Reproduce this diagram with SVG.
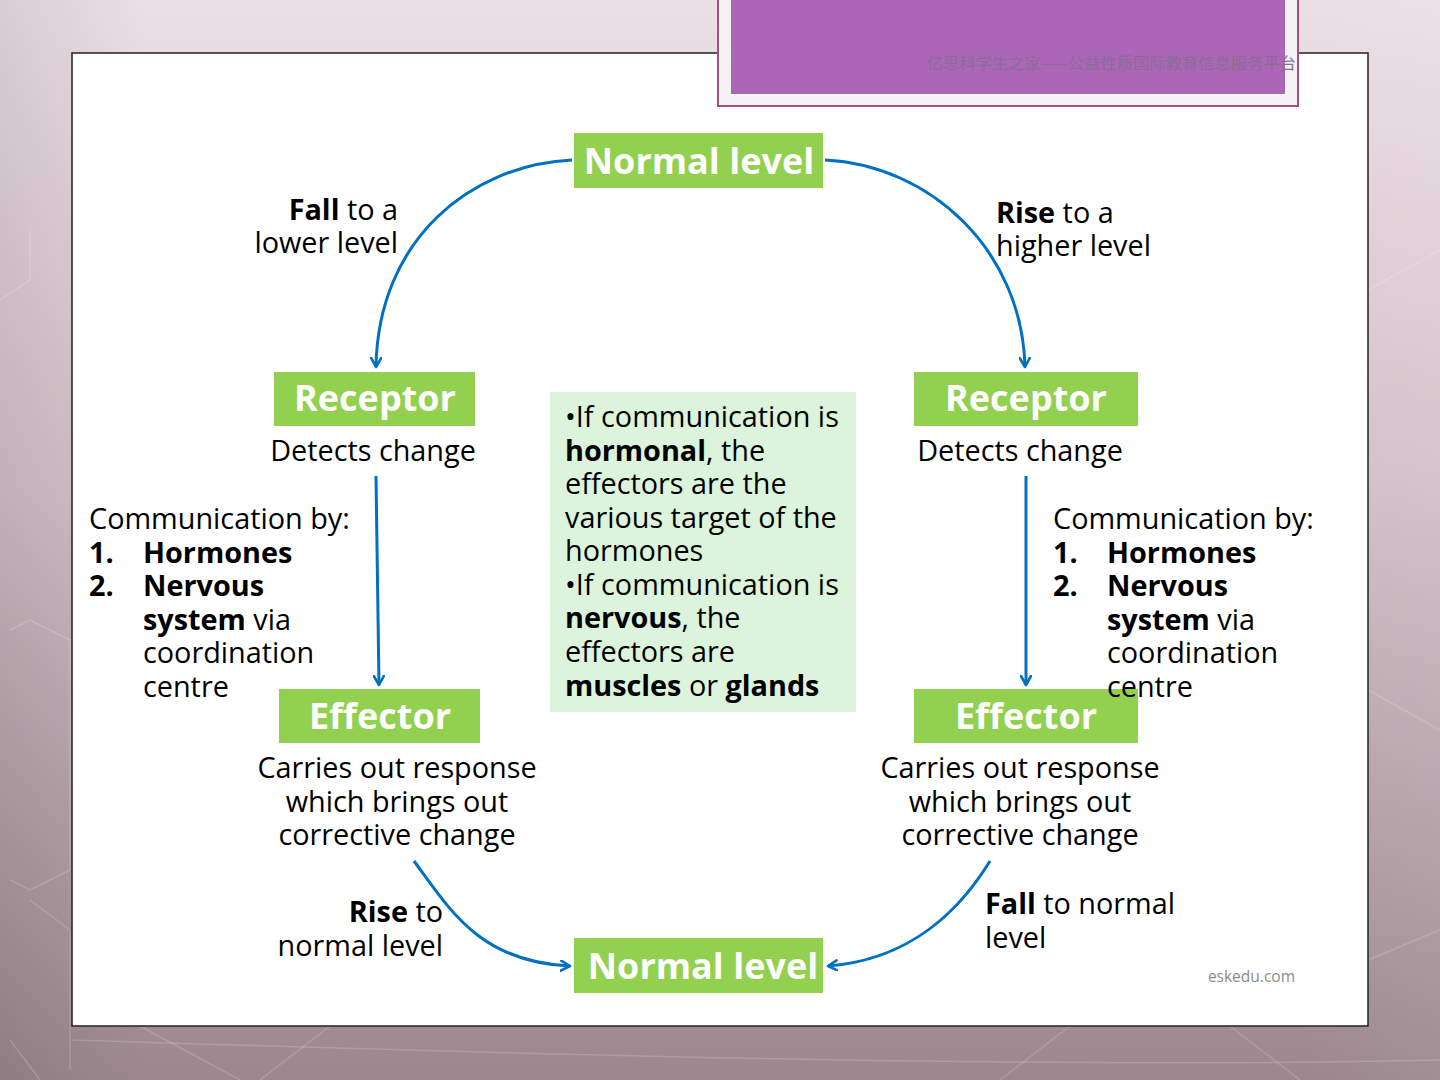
<svg xmlns="http://www.w3.org/2000/svg" width="1440" height="1080" viewBox="0 0 1440 1080">
<defs>
<linearGradient id="bg" x1="0" y1="0" x2="0" y2="1">
<stop offset="0" stop-color="#ebdfe5"/>
<stop offset="0.45" stop-color="#d4bfc8"/>
<stop offset="1" stop-color="#9c878e"/>
</linearGradient>
<linearGradient id="side" x1="0" y1="0" x2="1" y2="0">
<stop offset="0" stop-color="#000" stop-opacity="0.08"/>
<stop offset="0.1" stop-color="#000" stop-opacity="0"/>
<stop offset="0.9" stop-color="#fff" stop-opacity="0"/>
<stop offset="1" stop-color="#fff" stop-opacity="0.05"/>
</linearGradient>
<marker id="arr" viewBox="0 0 12 12" refX="10" refY="6" markerWidth="12" markerHeight="12" markerUnits="userSpaceOnUse" orient="auto">
<path d="M1,1 L10,6 L1,11" fill="none" stroke="#0070c0" stroke-width="2.6" stroke-linecap="round" stroke-linejoin="round"/>
</marker>
</defs>
<style>
.t{font-family:"Open Sans","Noto Sans",sans-serif;font-size:28.8px;fill:#000}
.b{font-weight:bold}
.nl{font-family:"Open Sans","Noto Sans",sans-serif;font-weight:bold;fill:#fff;text-anchor:middle;font-size:36px}
.box{fill:#92d050}
.c{fill:none;stroke:#0070c0;stroke-width:3}
.hex{fill:none;stroke:#fff;stroke-opacity:0.16;stroke-width:1.5}
</style>
<rect width="1440" height="1080" fill="url(#bg)"/>
<rect width="1440" height="1080" fill="url(#side)"/>
<g class="hex">
<path d="M0,300 L30,280 L30,230"/>
<path d="M10,630 L30,620 L70,640 L70,870 L30,890 L10,880"/>
<path d="M10,1040 L40,1080"/>
<path d="M30,900 L70,930 L70,1070"/>
<path d="M1368,290 L1440,250"/>
<path d="M1368,690 L1440,730"/>
<path d="M1368,960 L1440,930"/>
<path d="M140,1026 L240,1080"/>
<path d="M1230,1026 L1300,1080"/>
<path d="M260,1080 L330,1026"/>
<path d="M1000,1080 L1070,1026"/>
<path d="M72,1040 C400,1050 1000,1070 1440,1060"/>
</g>
<rect x="72" y="53" width="1296" height="973" fill="#fff" stroke="#222" stroke-width="1.5"/>
<g id="banner">
<rect x="718" y="-2" width="580" height="108" fill="#f3f3f3" stroke="#a64f7d" stroke-width="2"/>
<rect x="731" y="-2" width="554" height="96" fill="#ab66b8"/>
<text x="1296" y="69" text-anchor="end" font-family="Noto Sans CJK SC, sans-serif" font-size="16.3" fill="#8a6d92">亿思科学生之家——公益性质国际教育信息服务平台</text>
</g>
<g id="connectors">
<path class="c" d="M572,160 C470,165 378,240 376,367" marker-end="url(#arr)"/>
<path class="c" d="M825,160 C930,165 1022,250 1025,367" marker-end="url(#arr)"/>
<path class="c" d="M376,476 L379,685" marker-end="url(#arr)"/>
<path class="c" d="M1026,476 L1026,685" marker-end="url(#arr)"/>
<path class="c" d="M414,861 C450,910 480,962 570,966" marker-end="url(#arr)"/>
<path class="c" d="M990,861 C960,910 910,960 828,966" marker-end="url(#arr)"/>
</g>
<g id="normal-top">
<rect class="box" x="574" y="133" width="249" height="55"/>
<text class="nl" x="699" y="174">Normal level</text>
</g>
<g id="receptor-left">
<rect class="box" x="274" y="372" width="201" height="54"/>
<text class="nl" x="375" y="411">Receptor</text>
<text class="t" x="373" y="461" text-anchor="middle">Detects change</text>
</g>
<g id="receptor-right">
<rect class="box" x="914" y="372" width="224" height="54"/>
<text class="nl" x="1026" y="411">Receptor</text>
<text class="t" x="1020" y="461" text-anchor="middle">Detects change</text>
</g>
<g id="effector-left">
<rect class="box" x="279" y="689" width="201" height="54"/>
<text class="nl" x="380" y="729">Effector</text>
<text class="t" x="397" y="778" text-anchor="middle">Carries out response</text>
<text class="t" x="397" y="812" text-anchor="middle">which brings out</text>
<text class="t" x="397" y="845" text-anchor="middle">corrective change</text>
</g>
<g id="effector-right">
<rect class="box" x="914" y="689" width="224" height="54"/>
<text class="nl" x="1026" y="729">Effector</text>
<text class="t" x="1020" y="778" text-anchor="middle">Carries out response</text>
<text class="t" x="1020" y="812" text-anchor="middle">which brings out</text>
<text class="t" x="1020" y="845" text-anchor="middle">corrective change</text>
</g>
<g id="normal-bottom">
<rect class="box" x="574" y="938" width="249" height="55"/>
<text class="nl" x="703" y="979">Normal level</text>
</g>
<g id="info-box">
<rect x="550" y="392" width="306" height="320" fill="#dcf4dc"/>
<text class="t" x="565" y="427">•If communication is</text>
<text class="t" x="565" y="461"><tspan class="b">hormonal</tspan>, the</text>
<text class="t" x="565" y="494">effectors are the</text>
<text class="t" x="565" y="528">various target of the</text>
<text class="t" x="565" y="561">hormones</text>
<text class="t" x="565" y="595">•If communication is</text>
<text class="t" x="565" y="628"><tspan class="b">nervous</tspan>, the</text>
<text class="t" x="565" y="662">effectors are</text>
<text class="t" x="565" y="696"><tspan class="b">muscles</tspan> or <tspan class="b">glands</tspan></text>
</g>
<g id="labels">
<text class="t" x="398" y="220" text-anchor="end"><tspan class="b">Fall</tspan> to a</text>
<text class="t" x="398" y="253" text-anchor="end">lower level</text>
<text class="t" x="996" y="223"><tspan class="b">Rise</tspan> to a</text>
<text class="t" x="996" y="256">higher level</text>
<text class="t" x="443" y="922" text-anchor="end"><tspan class="b">Rise</tspan> to</text>
<text class="t" x="443" y="956" text-anchor="end">normal level</text>
<text class="t" x="985" y="914"><tspan class="b">Fall</tspan> to normal</text>
<text class="t" x="985" y="948">level</text>
</g>
<g id="comm-left">
<text class="t" x="89" y="529">Communication by:</text>
<text class="t b" x="89" y="563">1.</text><text class="t b" x="143" y="563">Hormones</text>
<text class="t b" x="89" y="596">2.</text><text class="t b" x="143" y="596">Nervous</text>
<text class="t" x="143" y="630"><tspan class="b">system</tspan> via</text>
<text class="t" x="143" y="663">coordination</text>
<text class="t" x="143" y="697">centre</text>
</g>
<g id="comm-right">
<text class="t" x="1053" y="529">Communication by:</text>
<text class="t b" x="1053" y="563">1.</text><text class="t b" x="1107" y="563">Hormones</text>
<text class="t b" x="1053" y="596">2.</text><text class="t b" x="1107" y="596">Nervous</text>
<text class="t" x="1107" y="630"><tspan class="b">system</tspan> via</text>
<text class="t" x="1107" y="663">coordination</text>
<text class="t" x="1107" y="697">centre</text>
</g>
<text x="1295" y="982" text-anchor="end" font-family="Open Sans, sans-serif" font-size="15.5" fill="#8c8c8c">eskedu.com</text>
</svg>
